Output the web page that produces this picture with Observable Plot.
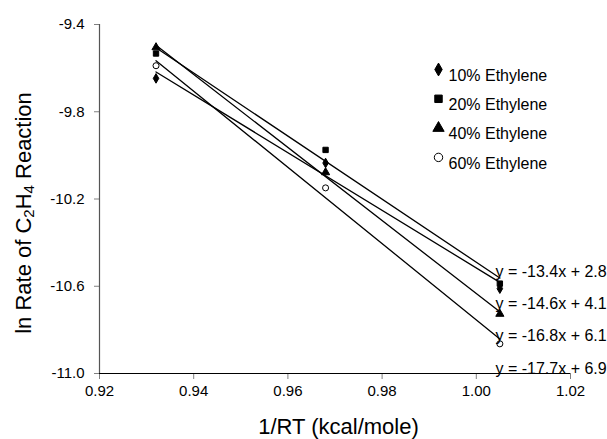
<!DOCTYPE html>
<html>
<head>
<meta charset="utf-8">
<script src="https://cdn.jsdelivr.net/npm/d3@7"></script>
<script src="https://cdn.jsdelivr.net/npm/@observablehq/plot@0.6"></script>
<style>
  html, body { margin: 0; padding: 0; background: #fff; }
</style>
</head>
<body>
<div id="chart"></div>
<script>
const xValues = [0.932, 0.968, 1.005];
const seriesNames = ["10% Ethylene", "20% Ethylene", "40% Ethylene", "60% Ethylene"];
const y10 = [-9.647, -10.035, -10.611];
const y20 = [-9.533, -9.975, -10.588];
const y40 = [-9.505, -10.078, -10.727];
const y60 = [-9.589, -10.149, -10.864];
const equations = ["y = -13.4x + 2.8", "y = -14.6x + 4.1", "y = -16.8x + 6.1", "y = -17.7x + 6.9"];
const xTicks = [0.92, 0.94, 0.96, 0.98, 1.00, 1.02];
const yTicks = [-11.0, -10.6, -10.2, -9.8, -9.4];

const seriesValues = [y10, y20, y40, y60];
const data = [];
seriesNames.forEach((s, i) => xValues.forEach((x, j) => data.push({series: s, x, y: seriesValues[i][j]})));

const symbols = ["diamond", "square", "triangle", "circle"];
const fills = ["black", "black", "black", "white"];
const fillOf = s => fills[seriesNames.indexOf(s)];
const rOf = s => s === "10% Ethylene" ? 3.9 : 4.2;

const W = 607, H = 439;
const mL = 99, mR = 37, mT = 24, mB = 66;

const legendMarks = seriesNames.flatMap((s, i) => [
  Plot.dot([s], {frameAnchor: "top-right", dx: -132, dy: 45 + 29.3 * i, symbol: d => d,
    fill: fillOf(s), stroke: "black", strokeWidth: 1, r: rOf(s)}),
  Plot.text([s], {frameAnchor: "top-right", dx: -122, dy: 45 + 29.3 * i, text: d => d,
    textAnchor: "start", fontSize: 16, fill: "black"})
]);

const eqMarks = equations.map((e, i) =>
  Plot.text([e], {frameAnchor: "top-right", dx: -75, dy: 241 + 32.3 * i, text: d => d,
    textAnchor: "start", fontSize: 16, fill: "black"})
);

const chart = Plot.plot({
  width: W, height: H,
  marginLeft: mL, marginRight: mR, marginTop: mT, marginBottom: mB,
  style: {fontFamily: "'Liberation Sans', Arial, sans-serif", fontSize: "15px", background: "white", color: "black"},
  x: {domain: [0.92, 1.02], label: null},
  y: {domain: [-11.0, -9.4], label: null},
  symbol: {domain: seriesNames, range: symbols},
  marks: [
    Plot.linearRegressionY(data, {x: "x", y: "y", z: "series", ci: 0, stroke: "black", strokeWidth: 1.3}),
    Plot.axisX({ticks: xTicks, tickFormat: d => d.toFixed(2), tickSize: 6, tickPadding: 6, stroke: "#808080", fontSize: 15, fill: "black", label: null}),
    Plot.axisY({ticks: yTicks, tickFormat: d => d.toFixed(1), tickSize: 5, tickPadding: 10, stroke: "#808080", fontSize: 15, fill: "black", label: null}),
    Plot.ruleY([-11.0], {stroke: "black", strokeWidth: 1.2}),
    Plot.ruleX([0.92], {stroke: "#555", strokeWidth: 1.2}),
    Plot.dot(data, {x: "x", y: "y", symbol: "series", fill: d => fillOf(d.series), stroke: "black", strokeWidth: 1, r: d => rOf(d.series)}),
    ...legendMarks,
    ...eqMarks
  ]
});

const svg = d3.select(chart);
svg.append("text")
  .attr("x", (mL + W - mR) / 2 + 4).attr("y", 428)
  .attr("text-anchor", "middle").attr("dominant-baseline", "middle")
  .attr("font-size", 22).attr("fill", "black")
  .text("1/RT (kcal/mole)");

const yt = svg.append("text")
  .attr("transform", "translate(25,213) rotate(-90)")
  .attr("text-anchor", "middle").attr("dominant-baseline", "middle")
  .attr("font-size", 22).attr("fill", "black");
yt.append("tspan").text("ln Rate of C");
yt.append("tspan").attr("font-size", 15).attr("dy", 5).text("2");
yt.append("tspan").attr("dy", -5).text("H");
yt.append("tspan").attr("font-size", 15).attr("dy", 5).text("4");
yt.append("tspan").attr("dy", -5).text(" Reaction");

document.getElementById("chart").appendChild(chart);
</script>
</body>
</html>
